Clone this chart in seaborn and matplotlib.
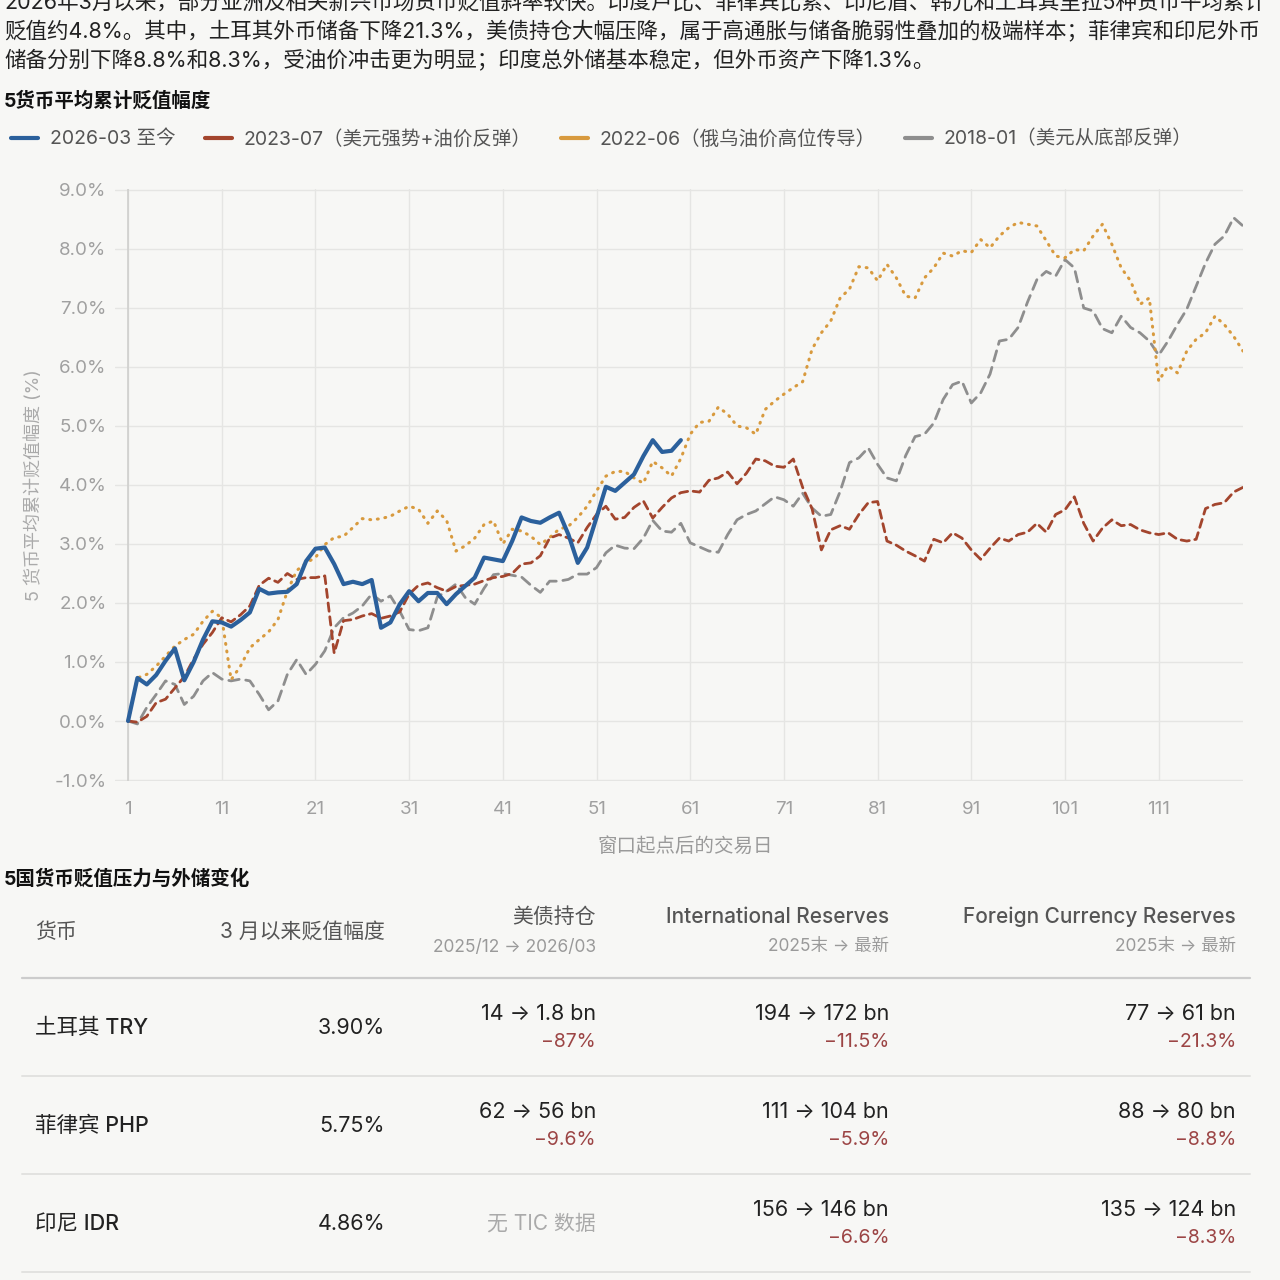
import numpy as np
import pandas as pd
import matplotlib
matplotlib.use("Agg")
import matplotlib.pyplot as plt
from matplotlib.lines import Line2D
from matplotlib.ticker import FuncFormatter, FixedLocator
import seaborn as sns

BG = "#f7f7f5"
BLUE, RED, ORANGE, GRAY = "#2b609c", "#a3452d", "#d89a3e", "#8e8e8e"

# ---- chart data (cumulative depreciation, %) ----
labels = ["2026-03 至今", "2023-07（美元强势+油价反弹）",
          "2022-06（俄乌油价高位传导）", "2018-01（美元从底部反弹）"]

cur_2026 = [0.00, 0.73, 0.62, 0.78, 1.02, 1.23, 0.69, 1.00, 1.38, 1.69,
            1.67, 1.60, 1.71, 1.84, 2.24, 2.16, 2.18, 2.19, 2.32, 2.71,
            2.92, 2.94, 2.66, 2.32, 2.36, 2.32, 2.39, 1.58, 1.67, 1.98,
            2.20, 2.03, 2.17, 2.17, 1.98, 2.15, 2.29, 2.43, 2.77, 2.74,
            2.71, 3.05, 3.45, 3.39, 3.36, 3.45, 3.53, 3.16, 2.68, 2.94,
            3.45, 3.97, 3.90, 4.04, 4.18, 4.49, 4.76, 4.56, 4.58, 4.76]

win_2023 = [0.00, -0.02, 0.08, 0.31, 0.37, 0.56, 0.75, 1.05, 1.30, 1.50,
            1.75, 1.68, 1.80, 1.95, 2.30, 2.42, 2.35, 2.50, 2.40, 2.43,
            2.43, 2.46, 1.15, 1.70, 1.72, 1.78, 1.82, 1.74, 1.78, 1.85,
            2.15, 2.30, 2.34, 2.26, 2.20, 2.28, 2.30, 2.32, 2.38, 2.43,
            2.45, 2.50, 2.66, 2.68, 2.80, 3.10, 3.16, 3.10, 3.02, 3.28,
            3.50, 3.64, 3.42, 3.45, 3.62, 3.73, 3.44, 3.62, 3.78, 3.87,
            3.90, 3.88, 4.08, 4.12, 4.22, 4.02, 4.20, 4.44, 4.41, 4.32,
            4.30, 4.44, 3.96, 3.60, 2.90, 3.24, 3.31, 3.25, 3.50, 3.70,
            3.72, 3.05, 2.98, 2.88, 2.80, 2.71, 3.08, 3.02, 3.19, 3.10,
            2.90, 2.74, 2.93, 3.10, 3.05, 3.16, 3.20, 3.35, 3.20, 3.50,
            3.58, 3.80, 3.35, 3.05, 3.27, 3.41, 3.31, 3.33, 3.24, 3.19,
            3.16, 3.19, 3.08, 3.05, 3.08, 3.60, 3.67, 3.70, 3.88, 3.96]

win_2022 = [0.00, 0.73, 0.79, 0.93, 1.10, 1.27, 1.38, 1.47, 1.69, 1.86,
            1.75, 0.70, 0.93, 1.24, 1.38, 1.51, 1.72, 2.20, 2.55, 2.68,
            2.77, 2.99, 3.11, 3.13, 3.28, 3.43, 3.41, 3.43, 3.47, 3.56,
            3.64, 3.59, 3.35, 3.56, 3.40, 2.88, 2.97, 3.10, 3.33, 3.39,
            3.00, 3.25, 3.22, 3.13, 2.99, 3.11, 3.25, 3.30, 3.45, 3.64,
            3.90, 4.15, 4.23, 4.23, 4.12, 4.03, 4.40, 4.29, 4.15, 4.45,
            4.86, 5.06, 5.08, 5.32, 5.20, 5.00, 4.97, 4.86, 5.28, 5.42,
            5.54, 5.65, 5.75, 6.30, 6.58, 6.78, 7.17, 7.32, 7.70, 7.68,
            7.46, 7.74, 7.51, 7.20, 7.17, 7.51, 7.68, 7.93, 7.88, 7.97,
            7.94, 8.16, 8.02, 8.22, 8.36, 8.45, 8.42, 8.39, 8.14, 7.88,
            7.85, 7.99, 7.97, 8.22, 8.42, 8.08, 7.68, 7.46, 7.06, 7.17,
            5.76, 6.02, 5.90, 6.27, 6.47, 6.58, 6.86, 6.72, 6.52, 6.27]

win_2018 = [0.00, -0.05, 0.23, 0.45, 0.68, 0.62, 0.28, 0.42, 0.68, 0.82,
            0.71, 0.68, 0.71, 0.68, 0.45, 0.19, 0.34, 0.79, 1.04, 0.79,
            0.96, 1.19, 1.58, 1.75, 1.83, 1.95, 2.15, 2.03, 2.12, 1.86,
            1.55, 1.53, 1.58, 2.10, 2.20, 2.32, 2.09, 1.98, 2.25, 2.48,
            2.50, 2.47, 2.44, 2.30, 2.18, 2.37, 2.37, 2.40, 2.49, 2.49,
            2.60, 2.85, 2.98, 2.93, 2.92, 3.10, 3.40, 3.22, 3.20, 3.35,
            3.02, 2.95, 2.88, 2.86, 3.16, 3.41, 3.50, 3.56, 3.68, 3.80,
            3.75, 3.64, 3.86, 3.61, 3.47, 3.50, 3.89, 4.38, 4.46, 4.63,
            4.35, 4.12, 4.07, 4.50, 4.82, 4.86, 5.05, 5.45, 5.70, 5.76,
            5.39, 5.56, 5.88, 6.44, 6.47, 6.67, 7.10, 7.48, 7.62, 7.54,
            7.82, 7.68, 7.00, 6.95, 6.65, 6.58, 6.86, 6.67, 6.58, 6.44,
            6.20, 6.44, 6.72, 6.98, 7.37, 7.76, 8.08, 8.22, 8.53, 8.39]

x_ticks = [1, 11, 21, 31, 41, 51, 61, 71, 81, 91, 101, 111]
y_ticks = [-1, 0, 1, 2, 3, 4, 5, 6, 7, 8, 9]

# ---- table data ----
currencies = ["土耳其 TRY", "菲律宾 PHP", "印尼 IDR"]
dep_since_march = [3.90, 5.75, 4.86]
tsy_hold = ["14 → 1.8 bn", "62 → 56 bn", None]
tsy_chg = ["−87%", "−9.6%", None]
intl_res = ["194 → 172 bn", "111 → 104 bn", "156 → 146 bn"]
intl_chg = ["−11.5%", "−5.9%", "−6.6%"]
fx_res = ["77 → 61 bn", "88 → 80 bn", "135 → 124 bn"]
fx_chg = ["−21.3%", "−8.8%", "−8.3%"]

intro = ["2026年3月以来，部分亚洲及相关新兴市场货币贬值斜率较快。印度卢比、菲律宾比索、印尼盾、韩元和土耳其里拉5种货币平均累计",
         "贬值约4.8%。其中，土耳其外币储备下降21.3%，美债持仓大幅压降，属于高通胀与储备脆弱性叠加的极端样本；菲律宾和印尼外币",
         "储备分别下降8.8%和8.3%，受油价冲击更为明显；印度总外储基本稳定，但外币资产下降1.3%。"]

# long table for seaborn
series = {labels[0]: cur_2026, labels[1]: win_2023, labels[2]: win_2022, labels[3]: win_2018}
df = pd.concat([pd.DataFrame({"day": np.arange(1, len(v) + 1), "value": v, "window": k})
                for k, v in series.items()], ignore_index=True)

sns.set_theme(style="whitegrid")
plt.rcParams["font.family"] = ["Inter", "Noto Sans CJK SC", "DejaVu Sans"]
plt.rcParams["axes.unicode_minus"] = False

fig = plt.figure(figsize=(12.8, 12.8), dpi=100, facecolor=BG)
ax = fig.add_axes([0.0898, 0.3897, 0.8813, 0.4628])
ax.set_facecolor(BG)

palette = {labels[0]: BLUE, labels[1]: RED, labels[2]: ORANGE, labels[3]: GRAY}
sizes = {labels[0]: 3.0, labels[1]: 2.0, labels[2]: 2.2, labels[3]: 2.0}
dashes = {labels[0]: "", labels[1]: (3.0, 2.0), labels[2]: (0.3, 2.2), labels[3]: (3.8, 2.4)}
order = [labels[3], labels[2], labels[1], labels[0]]

sns.lineplot(data=df, x="day", y="value", hue="window", size="window", style="window",
             hue_order=order, size_order=order, style_order=order,
             palette=palette, sizes=sizes, dashes=dashes, legend=False, ax=ax)
for ln in ax.lines:
    ln.set_dash_capstyle("round")
    ln.set_solid_capstyle("round")
    ln.set_solid_joinstyle("round")

ax.axvline(x_ticks[0], color="#cfcfcd", lw=1.2, zorder=1)
ax.set_xlim(-0.4, 120)
ax.set_ylim(-1.02, 9.02)
ax.xaxis.set_major_locator(FixedLocator(x_ticks))
ax.yaxis.set_major_locator(FixedLocator(y_ticks))
ax.yaxis.set_major_formatter(FuncFormatter(lambda v, p: f"{v:.1f}%"))
ax.grid(True, color="#e5e5e3", lw=1.0)
for s in ax.spines.values():
    s.set_visible(False)
ax.tick_params(axis="both", length=0, colors="#a0a0a0", labelsize=13.5)
ax.tick_params(axis="x", pad=14)
ax.tick_params(axis="y", pad=6)
ax.set_xlabel("窗口起点后的交易日", fontsize=14, color="#9a9a9a")
ax.xaxis.set_label_coords(0.506, -0.095)
ax.set_ylabel("5 货币平均累计贬值幅度 (%)", fontsize=13, color="#aaaaaa")
ax.yaxis.set_label_coords(-0.064, 0.5)

handles = [Line2D([], [], color=palette[l], lw=3.0) for l in labels]
fig.legend(handles, labels, loc="center left", bbox_to_anchor=(11 / 1280, 1 - 139 / 1280),
           ncol=4, frameon=False, fontsize=14, labelcolor="#555555",
           handlelength=1.4, handletextpad=0.6, columnspacing=1.5,
           borderaxespad=0, borderpad=0)

# ---- overlay in pixel coords for text blocks and table ----
ov = fig.add_axes([0, 0, 1, 1], facecolor="none")
ov.set_xlim(0, 1280)
ov.set_ylim(1280, 0)
ov.axis("off")

for i, line in enumerate(intro):
    ov.text(4, 2 + i * 29, line, fontsize=15.5, color="#222222", va="center", ha="left")

ov.text(4, 101, "5货币平均累计贬值幅度", fontsize=14, fontweight="bold", color="#111111", va="center")
ov.text(4, 879, "5国货币贬值压力与外储变化", fontsize=14, fontweight="bold", color="#111111", va="center")

HEAD = "#555555"
SUB = "#9a9a9a"
NEG = "#9c4545"
ov.text(35, 932, "货币", fontsize=15, color=HEAD, va="center")
ov.text(385, 932, "3 月以来贬值幅度", fontsize=15, color=HEAD, va="center", ha="right")
cols = [(596, "美债持仓", "2025/12 → 2026/03"),
        (889, "International Reserves", "2025末 → 最新"),
        (1236, "Foreign Currency Reserves", "2025末 → 最新")]
for xr, head, sub in cols:
    ov.text(xr, 917, head, fontsize=15, color=HEAD, va="center", ha="right", fontweight="medium")
    ov.text(xr, 947, sub, fontsize=12.5, color=SUB, va="center", ha="right")

ov.plot([22, 1250], [978, 978], color="#cccccc", lw=1.6)
row_y = [1028, 1126, 1224]
for i, yc in enumerate(row_y):
    ov.text(35, yc, currencies[i], fontsize=15.5, color="#222222", va="center", fontweight="medium")
    ov.text(385, yc, f"{dep_since_march[i]:.2f}%", fontsize=15.5, color="#222222", va="center", ha="right")
    if tsy_hold[i] is None:
        ov.text(596, yc, "无 TIC 数据", fontsize=15, color="#aaaaaa", va="center", ha="right")
    else:
        ov.text(596, yc - 14, tsy_hold[i], fontsize=15.5, color="#222222", va="center", ha="right")
        ov.text(596, yc + 14, tsy_chg[i], fontsize=14, color=NEG, va="center", ha="right")
    for xr, val, chg in [(889, intl_res[i], intl_chg[i]), (1236, fx_res[i], fx_chg[i])]:
        ov.text(xr, yc - 14, val, fontsize=15.5, color="#222222", va="center", ha="right")
        ov.text(xr, yc + 14, chg, fontsize=14, color=NEG, va="center", ha="right")
    ov.plot([22, 1250], [yc + 48, yc + 48], color="#e2e2e0", lw=1.4)

fig.savefig("out.png", dpi=100, facecolor=BG)
